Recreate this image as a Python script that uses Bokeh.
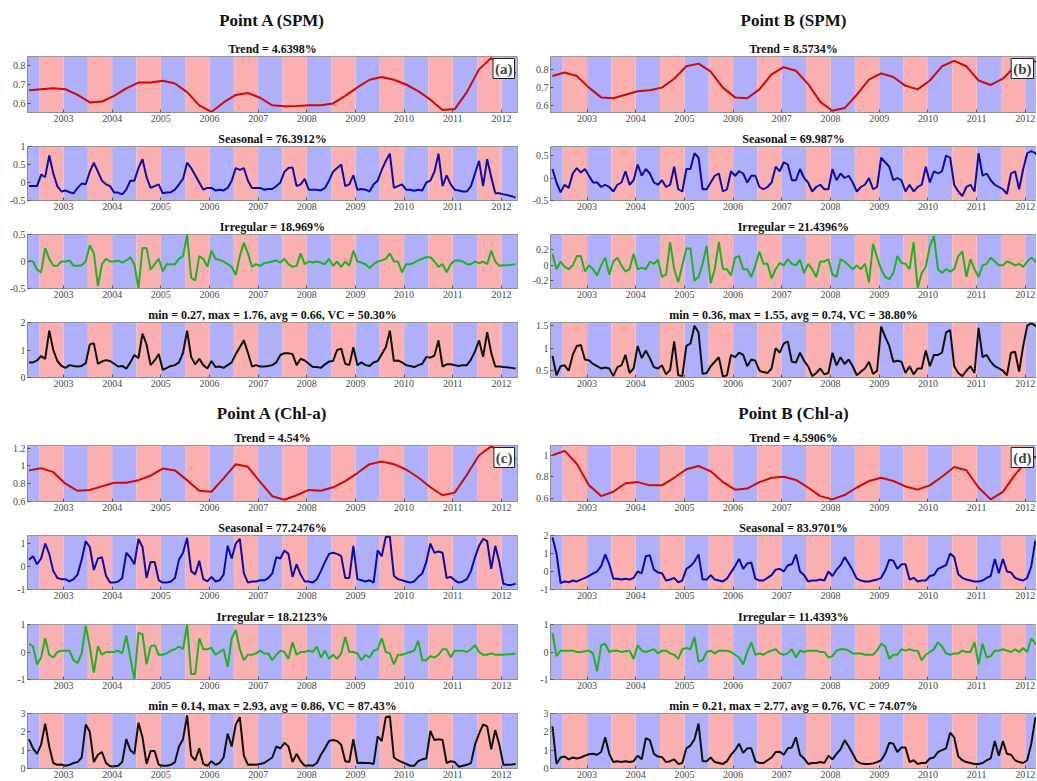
from bokeh.plotting import figure
from bokeh.layouts import column, row
from bokeh.models import Range1d, FixedTicker, Title, Label, CustomJSTickFormatter
from bokeh.embed import file_html
from bokeh.resources import INLINE

# ---------------- time axis ----------------
first_month = 2002.29          # first monthly sample (decimal year)
band_years = list(range(2002, 2013))
tick_years = list(range(2003, 2013))

# ---------------- titles ----------------
group_titles = ["Point A (SPM)", "Point B (SPM)", "Point A (Chl-a)", "Point B (Chl-a)"]
panel_tags = ["(a)", "(b)", "(c)", "(d)"]
titles_a = ["Trend = 4.6398%", "Seasonal = 76.3912%", "Irregular = 18.969%",
            "min = 0.27, max = 1.76, avg = 0.66, VC = 50.30%"]
titles_b = ["Trend = 8.5734%", "Seasonal = 69.987%", "Irregular = 21.4396%",
            "min = 0.36, max = 1.55, avg = 0.74, VC = 38.80%"]
titles_c = ["Trend = 4.54%", "Seasonal = 77.2476%", "Irregular = 18.2123%",
            "min = 0.14, max = 2.93, avg = 0.86, VC = 87.43%"]
titles_d = ["Trend = 4.5906%", "Seasonal = 83.9701%", "Irregular = 11.4393%",
            "min = 0.21, max = 2.77, avg = 0.76, VC = 74.07%"]

# ---------------- Point A (SPM) ----------------
trend_a = [0.67, 0.675, 0.68, 0.675, 0.645, 0.605, 0.61, 0.64, 0.68, 0.71, 0.71, 0.72, 0.705, 0.66,
           0.59, 0.555, 0.605, 0.645, 0.655, 0.63, 0.59, 0.585, 0.586, 0.59, 0.59, 0.6, 0.64, 0.685,
           0.725, 0.74, 0.725, 0.7, 0.665, 0.62, 0.565, 0.57, 0.66, 0.78, 0.84, 0.8, 0.76]
seasonal_a = [-0.1, -0.1, -0.1, 0.22, 0.15, 0.75, 0.25, -0.1, -0.25, -0.22,
              -0.27, -0.3, -0.15, -0.03, -0.05, 0.3, 0.55, 0.3, 0.05, -0.05,
              -0.1, -0.28, -0.28, -0.33, -0.2, 0.05, 0.05, 0.4, 0.65, 0.15,
              -0.15, -0.1, -0.05, -0.3, -0.28, -0.27, -0.2, -0.05, 0.1, 0.55,
              0.4, 0.2, 0.0, -0.2, -0.15, -0.15, -0.22, -0.2, -0.22, -0.15,
              0.05, 0.4, 0.35, 0.4, 0.05, -0.15, -0.15, -0.15, -0.2, -0.18,
              -0.18, -0.1, 0.0, 0.3, 0.4, 0.42, -0.1, -0.05, 0.1, -0.2,
              -0.2, -0.2, -0.22, -0.15, 0.05, 0.3, 0.4, 0.5, -0.1, -0.05,
              0.2, -0.2, -0.18, -0.2, -0.25, -0.05, 0.05, 0.35, 0.6, 0.8,
              -0.15, -0.1, -0.05, -0.2, -0.2, -0.23, -0.2, -0.22, 0.0, 0.05,
              0.3, 0.8, -0.1, 0.2, -0.05, -0.2, -0.22, -0.25, -0.25, -0.1,
              0.25, 0.6, -0.1, 0.65, 0.15, -0.3, -0.3, -0.33, -0.35, -0.38, -0.42]
irregular_a = [0.02, 0.0, -0.15, -0.2, 0.25, 0.05, -0.08, -0.08, 0.0, 0.0,
               0.02, -0.08, -0.08, -0.07, 0.0, 0.3, 0.15, -0.45, -0.05, 0.05,
               0.0, 0.0, 0.02, -0.02, 0.02, 0.08, -0.05, -0.5, 0.25, 0.25,
               -0.15, -0.05, 0.05, -0.18, -0.05, -0.05, -0.05, 0.05, 0.1, 0.5,
               -0.3, -0.35, 0.1, 0.05, -0.1, 0.2, 0.05, 0.03, 0.0, -0.05,
               -0.1, -0.25, 0.1, 0.35, 0.15, -0.1, -0.05, -0.08, -0.03, -0.02,
               0.0, 0.02, -0.02, 0.05, -0.05, -0.1, -0.08, 0.15, -0.05, 0.0,
               -0.02, 0.0, -0.02, -0.05, 0.05, -0.08, 0.0, -0.1, 0.0, -0.08,
               0.2, 0.0, -0.02, -0.05, -0.12, -0.05, 0.0, 0.02, 0.05, 0.15,
               0.0, 0.0, -0.2, -0.05, -0.05, -0.02, 0.02, 0.05, 0.08, 0.08,
               0.0, -0.1, -0.05, -0.2, -0.05, 0.02, 0.02, 0.0, -0.05, -0.05,
               0.0, -0.03, 0.0, -0.05, 0.2, 0.0, -0.08, -0.07, -0.07, -0.06, -0.05]
raw_a = [0.55, 0.55, 0.62, 0.78, 0.68, 1.7, 1.0, 0.6, 0.42, 0.35,
         0.45, 0.42, 0.4, 0.42, 0.52, 1.2, 1.25, 0.5, 0.58, 0.63,
         0.6, 0.5, 0.4, 0.42, 0.32, 0.55, 0.82, 0.7, 1.6, 1.2,
         0.45, 0.62, 0.85, 0.28, 0.35, 0.42, 0.45, 0.55, 0.9, 1.7,
         0.75, 0.48, 0.68, 0.45, 0.33, 0.6, 0.38, 0.4, 0.35, 0.45,
         0.55, 0.85, 1.1, 1.35, 0.9, 0.4, 0.45, 0.4, 0.4, 0.42,
         0.45, 0.55, 0.82, 0.88, 0.88, 0.85, 0.45, 0.68, 0.62, 0.5,
         0.38, 0.38, 0.35, 0.48, 0.58, 0.6, 1.0, 1.05, 0.5, 0.45,
         1.1, 0.45, 0.55, 0.45, 0.42, 0.55, 0.6, 0.85, 1.1, 1.7,
         0.6, 0.62, 0.55, 0.45, 0.42, 0.38, 0.45, 0.5, 0.75, 0.72,
         0.8, 1.35, 0.4, 0.48, 0.48, 0.45, 0.42, 0.45, 0.45, 0.65,
         0.95, 1.35, 0.75, 1.65, 0.9, 0.4, 0.4, 0.38, 0.37, 0.35, 0.33]

# ---------------- Point B (SPM) ----------------
trend_b = [0.765, 0.785, 0.765, 0.7, 0.645, 0.64, 0.66, 0.68, 0.685, 0.7, 0.75, 0.82, 0.835, 0.79,
           0.7, 0.645, 0.64, 0.69, 0.775, 0.815, 0.795, 0.72, 0.62, 0.57, 0.585, 0.66, 0.745, 0.78,
           0.76, 0.71, 0.69, 0.74, 0.82, 0.85, 0.82, 0.74, 0.715, 0.75, 0.82, 0.86, 0.84]
seasonal_b = [0.2, -0.1, -0.32, -0.15, -0.22, 0.1, 0.22, 0.12, 0.2, 0.05,
              -0.1, -0.1, -0.2, -0.15, -0.2, -0.3, -0.15, -0.1, 0.15, -0.15,
              -0.05, 0.3, 0.05, 0.2, 0.1, -0.1, -0.15, -0.05, -0.2, -0.15,
              0.25, -0.25, -0.3, 0.2, 0.2, 0.55, 0.45, -0.25, -0.25, -0.1,
              0.05, 0.1, -0.3, -0.25, 0.15, 0.05, 0.15, 0.1, -0.1, 0.05,
              0.05, -0.2, -0.25, -0.2, -0.1, 0.25, 0.15, 0.35, 0.3, -0.05,
              -0.05, 0.2, 0.0, -0.1, -0.3, -0.2, -0.15, -0.25, -0.25, 0.2,
              -0.05, 0.1, 0.0, 0.05, -0.1, -0.3, -0.2, -0.15, 0.0, -0.25,
              -0.2, 0.45, 0.35, 0.25, -0.05, 0.0, -0.05, -0.3, -0.15, -0.3,
              -0.2, -0.15, 0.25, -0.1, 0.15, 0.1, 0.15, 0.5, 0.45, -0.15,
              -0.3, -0.4, -0.2, -0.15, -0.3, 0.55, 0.05, 0.1, -0.05, -0.15,
              -0.2, -0.25, -0.35, 0.1, 0.15, -0.25, 0.2, 0.55, 0.6, 0.55, 0.45]
irregular_b = [0.15, -0.05, 0.05, -0.02, -0.05, 0.0, 0.12, 0.12, -0.08, 0.0,
               -0.05, -0.13, 0.0, 0.1, -0.12, 0.05, 0.1, 0.0, -0.08, -0.05,
               0.15, -0.05, -0.03, -0.05, 0.05, 0.02, 0.07, -0.15, -0.12, 0.3,
               -0.05, -0.22, 0.0, 0.22, 0.22, -0.2, -0.15, 0.02, 0.25, -0.23,
               -0.05, 0.3, -0.05, -0.05, -0.13, 0.1, 0.12, -0.05, -0.05, -0.15,
               0.0, 0.18, 0.02, 0.02, -0.17, -0.05, 0.03, 0.0, 0.08, 0.02,
               0.0, 0.07, -0.1, 0.02, -0.05, -0.15, 0.05, 0.05, 0.08, -0.12,
               -0.15, 0.08, 0.05, 0.0, -0.05, 0.0, -0.05, 0.02, -0.22, 0.28,
               0.1, -0.05, -0.15, -0.18, -0.1, 0.12, 0.03, 0.02, -0.05, 0.3,
               -0.3, -0.1, -0.02, 0.25, 0.38, -0.05, -0.1, -0.05, -0.08, -0.05,
               0.12, 0.18, -0.15, 0.08, -0.05, -0.15, 0.0, 0.02, 0.1, 0.05,
               0.0, 0.0, 0.05, 0.03, 0.0, 0.02, -0.02, 0.05, 0.1, 0.05, 0.02]
raw_b = [0.83, 0.4, 0.6, 0.62, 0.5, 0.85, 1.05, 1.07, 0.75, 0.73,
         0.65, 0.6, 0.55, 0.57, 0.55, 0.38, 0.58, 0.62, 0.85, 0.45,
         0.55, 1.05, 0.78, 0.95, 0.78, 0.58, 0.55, 0.62, 0.42, 0.52,
         1.15, 0.4, 0.38, 1.05, 1.1, 1.5, 1.35, 0.43, 0.45, 0.6,
         0.7, 0.8, 0.37, 0.4, 0.85, 0.8, 0.9, 0.85, 0.6, 0.75,
         0.72, 0.5, 0.47, 0.45, 0.55, 1.0, 0.9, 1.1, 1.15, 0.7,
         0.68, 0.9, 0.72, 0.6, 0.38, 0.45, 0.55, 0.42, 0.45, 0.9,
         0.62, 0.8, 0.65, 0.75, 0.6, 0.4, 0.48, 0.55, 0.7, 0.43,
         0.5, 1.48, 1.25, 1.05, 0.7, 0.72, 0.7, 0.45, 0.6, 0.42,
         0.55, 0.55, 0.95, 0.6, 0.85, 0.85, 0.9, 1.35, 1.4, 0.6,
         0.45, 0.38, 0.5, 0.6, 0.45, 1.45, 0.8, 0.85, 0.7, 0.6,
         0.55, 0.5, 0.4, 0.9, 0.92, 0.48, 1.05, 1.5, 1.55, 1.5, 1.4]

# ---------------- Point A (Chl-a) ----------------
trend_c = [0.95, 0.975, 0.93, 0.8, 0.72, 0.73, 0.77, 0.81, 0.81, 0.84, 0.89, 0.97, 0.95, 0.84,
           0.72, 0.71, 0.86, 1.02, 0.99, 0.82, 0.66, 0.62, 0.67, 0.73, 0.72, 0.76, 0.83, 0.92,
           1.02, 1.05, 1.02, 0.96, 0.87, 0.76, 0.67, 0.7, 0.9, 1.12, 1.22, 1.14, 1.08]
seasonal_c = [0.3, 0.45, 0.1, 0.35, 1.0, 0.55, -0.2, -0.5, -0.55, -0.55,
              -0.65, -0.55, -0.35, 0.3, 1.1, 0.85, -0.15, 0.35, 0.4, -0.4,
              -0.7, -0.7, -0.65, -0.5, 0.6, 0.4, 0.1, 1.2, 0.85, -0.5,
              0.2, 0.2, -0.6, -0.7, -0.7, -0.65, -0.5, 0.3, 0.6, 1.25,
              -0.2, -0.35, 0.25, -0.55, -0.65, -0.45, -0.65, -0.6, -0.35, 0.9,
              0.35, 1.0, 1.2, -0.3, -0.7, -0.65, -0.65, -0.6, -0.6, -0.5,
              -0.3, 0.4, 0.35, 0.7, 0.55, -0.45, 0.1, -0.35, -0.65, -0.65,
              -0.7, -0.55, -0.2, 0.2, 0.55, 0.6, 0.55, 0.45, -0.5, -0.5,
              0.9, -0.55, -0.6, -0.65, -0.6, -0.7, 0.7, 0.45, 1.3, 1.3,
              -0.4, -0.55, -0.6, -0.65, -0.7, -0.65, -0.45, -0.3, 0.2, 1.0,
              0.6, 0.65, 0.6, -0.5, -0.45, -0.6, -0.7, -0.65, -0.55, -0.2,
              0.4, 0.9, 1.2, 1.1, -0.1, 0.9, 0.2, -0.75, -0.8, -0.8, -0.75]
irregular_c = [0.3, 0.2, -0.45, -0.2, 0.5, -0.1, -0.2, 0.0, 0.05, 0.05,
               0.05, -0.3, -0.4, -0.05, 0.95, 0.2, -0.75, 0.2, -0.1, 0.0,
               0.0, 0.0, 0.05, -0.05, 0.6, -0.2, -1.0, 0.7, 0.65, -0.45,
               0.2, 0.25, -0.1, -0.1, -0.05, 0.05, 0.1, 0.2, 0.1, 1.0,
               -0.8, -0.8, 0.5, 0.1, 0.1, 0.15, -0.1, 0.0, 0.1, -0.55,
               0.5, 0.8, 0.1, -0.3, -0.1, -0.1, -0.05, 0.05, -0.05, -0.05,
               -0.3, -0.1, 0.05, 0.0, -0.25, 0.35, -0.1, 0.0, 0.0, 0.05,
               0.0, 0.2, -0.2, 0.05, -0.25, -0.1, -0.25, -0.05, 0.55, 0.0,
               0.0, -0.05, -0.3, -0.1, -0.2, 0.05, 0.1, 0.5, 0.0, -0.05,
               -0.45, -0.1, -0.1, -0.05, 0.0, 0.05, 0.4, -0.3, -0.3, -0.15,
               -0.2, -0.1, 0.1, 0.1, -0.2, 0.05, 0.05, 0.05, 0.0, 0.1,
               0.25, 0.0, -0.1, -0.1, -0.05, -0.1, -0.1, -0.1, -0.08, -0.08, -0.05]
raw_c = [1.6, 1.1, 0.8, 1.3, 2.45, 1.2, 0.3, 0.2, 0.22, 0.15,
         0.2, 0.3, 0.35, 0.6, 2.4, 2.0, 0.35, 0.75, 0.9, 0.3,
         0.12, 0.12, 0.15, 0.35, 1.6, 1.0, 0.8, 2.5, 1.7, 0.25,
         0.95, 0.95, 0.2, 0.15, 0.15, 0.2, 0.35, 1.2, 1.6, 2.9,
         0.7, 0.45, 1.1, 0.25, 0.15, 0.4, 0.2, 0.3, 0.6, 1.9,
         1.2, 2.4, 2.8, 0.7, 0.2, 0.22, 0.2, 0.25, 0.3, 0.45,
         0.6, 1.2, 1.1, 1.4, 1.2, 0.35, 0.8, 0.4, 0.15, 0.18,
         0.15, 0.3, 0.75, 1.1, 1.5, 1.55, 1.5, 1.3, 0.4, 0.35,
         1.6, 0.3, 0.32, 0.3, 0.3, 0.25, 1.75, 1.5, 2.8, 2.85,
         0.6, 0.45, 0.35, 0.25, 0.15, 0.15, 0.4, 0.5, 0.55, 2.05,
         1.55, 1.6, 1.55, 0.3, 0.4, 0.35, 0.1, 0.15, 0.2, 0.3,
         1.3, 1.9, 2.4, 2.3, 1.05, 2.1, 1.3, 0.2, 0.2, 0.22, 0.25]

# ---------------- Point B (Chl-a) ----------------
trend_d = [1.0, 1.04, 0.92, 0.72, 0.62, 0.66, 0.74, 0.75, 0.72, 0.72, 0.79, 0.87, 0.9, 0.85,
           0.75, 0.68, 0.69, 0.75, 0.79, 0.8, 0.77, 0.7, 0.62, 0.59, 0.63, 0.7, 0.76, 0.79,
           0.76, 0.71, 0.68, 0.72, 0.8, 0.89, 0.86, 0.7, 0.59, 0.66, 0.82, 0.95, 1.0]
seasonal_d = [1.9, 1.0, -0.65, -0.55, -0.6, -0.5, -0.55, -0.45, -0.35, -0.25,
              -0.1, 0.0, 0.3, 0.95, 0.4, -0.4, -0.4, -0.45, -0.4, -0.45,
              -0.35, 0.0, -0.1, 0.85, 0.9, 0.1, -0.05, -0.1, -0.5, -0.45,
              -0.35, -0.6, -0.5, 0.15, 0.3, 0.55, 0.95, -0.45, -0.45, -0.2,
              -0.45, -0.5, -0.55, -0.4, -0.05, 0.3, 0.7, 0.15, 0.45, 0.5,
              -0.4, -0.5, -0.5, -0.35, -0.2, 0.1, 0.15, 0.0, 0.35, 0.4,
              0.95, 0.0, -0.2, -0.55, -0.5, -0.5, -0.45, -0.5, 0.0, -0.25,
              0.1, 0.35, 0.8, 0.45, 0.05, -0.4, -0.5, -0.55, -0.55, -0.5,
              -0.45, -0.35, 0.05, 0.65, 0.6, 0.15, 0.4, 0.4, -0.45, -0.35,
              -0.55, -0.5, -0.5, -0.25, -0.2, 0.15, 0.25, 0.35, 1.0, 0.8,
              -0.15, -0.35, -0.45, -0.5, -0.55, -0.55, -0.5, -0.35, -0.25, 0.7,
              -0.1, 0.7, 0.0, -0.05, -0.35, -0.45, -0.5, -0.35, 0.3, 1.7, 1.2]
irregular_d = [0.7, -0.15, 0.05, 0.05, 0.05, 0.05, 0.0, 0.0, 0.03, 0.05,
               -0.05, -0.7, 0.25, 0.3, 0.0, 0.05, 0.05, 0.0, 0.03, 0.05,
               -0.25, 0.25, 0.05, 0.0, 0.05, 0.1, -0.05, 0.05, 0.05, -0.05,
               -0.1, -0.25, 0.1, 0.15, 0.1, 0.55, -0.35, -0.3, 0.0, 0.05,
               -0.05, 0.05, 0.05, 0.05, 0.0, -0.1, -0.2, -0.45, 0.0, 0.35,
               -0.1, -0.05, -0.1, 0.0, 0.05, 0.1, -0.05, -0.1, -0.05, 0.1,
               -0.2, 0.05, 0.0, 0.05, 0.05, 0.05, 0.0, 0.0, -0.2, -0.15,
               0.05, 0.1, 0.1, 0.05, -0.05, -0.05, -0.05, -0.1, -0.1, -0.1,
               0.05, 0.3, 0.2, -0.25, -0.1, -0.1, 0.1, 0.05, 0.1, 0.05,
               0.05, -0.3, -0.1, 0.0, 0.1, 0.35, 0.2, -0.05, -0.1, -0.05,
               -0.05, 0.05, 0.0, 0.0, 0.35, -0.45, 0.3, -0.2, -0.15, 0.05,
               0.05, 0.1, 0.05, 0.0, 0.1, 0.0, 0.15, 0.0, 0.5, 0.3, 0.2]
raw_d = [2.3, 0.25, 0.6, 0.65, 0.5, 0.6, 0.55, 0.6, 0.7, 0.78,
         0.8, 0.75, 0.9, 1.7, 0.8, 0.35, 0.4, 0.35, 0.4, 0.35,
         0.4, 0.7, 0.5, 1.65, 1.55, 0.8, 0.65, 0.62, 0.35, 0.4,
         0.5, 0.25, 0.3, 1.1, 1.25, 1.6, 2.45, 0.4, 0.4, 0.6,
         0.35, 0.3, 0.25, 0.4, 0.75, 1.0, 1.35, 0.85, 1.1, 1.1,
         0.4, 0.3, 0.3, 0.45, 0.6, 0.9, 0.92, 0.75, 1.1, 1.15,
         1.7, 0.75, 0.55, 0.25, 0.3, 0.3, 0.35, 0.3, 0.7, 0.5,
         0.8, 1.05, 1.55, 1.2, 0.8, 0.4, 0.28, 0.25, 0.25, 0.28,
         0.35, 0.45, 0.8, 1.4, 1.35, 0.9, 1.15, 1.15, 0.35, 0.45,
         0.25, 0.3, 0.3, 0.55, 0.6, 0.9, 1.0, 1.1, 1.95, 1.7,
         0.65, 0.45, 0.35, 0.3, 0.25, 0.25, 0.3, 0.45, 0.55, 1.5,
         0.7, 1.5, 0.8, 0.75, 0.45, 0.35, 0.3, 0.45, 1.35, 2.77, 2.5]

# ---------------- axis settings per panel ----------------
yranges = {
    "a": [(0.552, 0.848), (-0.5, 1.0), (-0.5, 0.5), (0.0, 2.0)],
    "b": [(0.56, 0.875), (-0.5, 0.7), (-0.3, 0.4), (0.35, 1.57)],
    "c": [(0.6, 1.23), (-1.0, 1.35), (-1.0, 1.0), (0.0, 3.0)],
    "d": [(0.57, 1.09), (-1.0, 2.0), (-1.0, 1.0), (0.0, 3.0)],
}
yticks = {
    "a": [[0.6, 0.7, 0.8], [-0.5, 0, 0.5, 1], [-0.5, 0, 0.5], [0, 1, 2]],
    "b": [[0.6, 0.7, 0.8], [-0.5, 0, 0.5], [-0.2, 0, 0.2], [0.5, 1, 1.5]],
    "c": [[0.6, 0.8, 1, 1.2], [-1, 0, 1], [-1, 0, 1], [0, 1, 2, 3]],
    "d": [[0.6, 0.8, 1], [-1, 0, 1, 2], [-1, 0, 1], [0, 1, 2, 3]],
}

FONT = "Liberation Serif"
BLUE_BAND = "#b0b0fa"
RED_BAND = "#fab0b0"
LINE_COLORS = ["#cc0a0a", "#0c0ca8", "#22b022", "#111111"]
AX_COLOR = "#8c8c8c"
fmt = CustomJSTickFormatter(code="return String(Math.round(tick*100)/100);")

COLS = {
    "left": dict(width=525, mbl=27, mbr=8, xr=(2002.26, 2012.33)),
    "right": dict(width=511, mbl=25, mbr=0, xr=(2002.25, 2012.23)),
}

# (top border, frame height, bottom border) of the four rows in each block
ROWS_TOP = [(56, 56, 16), (17, 55, 16), (17, 55, 16), (18, 55, 16)]
ROWS_BOTTOM = [(52, 56, 16), (17, 55, 17), (18, 55, 16), (18, 55, 12)]
SPACER_SIZE = ["2px", None]   # blank gap between block heading and first subtitle


def make_fig(values, step, color, yr, ticks, title, col, dims, group=None, tag=None,
             spacer=None):
    c = COLS[col]
    top, fh, bottom = dims
    xs = [first_month + i * step for i in range(len(values))]
    p = figure(width=c["width"], height=top + fh + bottom, output_backend="svg",
               toolbar_location=None, x_range=Range1d(*c["xr"]), y_range=Range1d(*yr),
               min_border_left=c["mbl"], min_border_right=c["mbr"],
               min_border_top=top, min_border_bottom=bottom)
    if group is not None:
        # figure title is the outermost one: use it for the block heading
        p.title.text = group
        p.title.align = "center"
        p.title.text_font = FONT
        p.title.text_font_size = "17px"
        p.title.text_font_style = "bold"
        p.title.text_color = "#111111"
        p.add_layout(Title(text=title, align="center", text_font=FONT, text_font_size="12px",
                           text_font_style="bold", text_color="#111111", standoff=2), "above")
        if spacer is not None:
            p.add_layout(Title(text=" ", align="center", text_font=FONT,
                               text_font_size=spacer, standoff=0), "above")
    else:
        p.title.text = title
        p.title.align = "center"
        p.title.text_font = FONT
        p.title.text_font_size = "12px"
        p.title.text_font_style = "bold"
        p.title.text_color = "#111111"
        p.title.standoff = 2
    p.quad(left=band_years, right=[y + 0.5 for y in band_years], bottom=yr[0], top=yr[1],
           fill_color=BLUE_BAND, line_color=None)
    p.quad(left=[y + 0.5 for y in band_years], right=[y + 1 for y in band_years],
           bottom=yr[0], top=yr[1], fill_color=RED_BAND, line_color=None)
    p.line(xs, values, line_color=color, line_width=2)
    p.xgrid.visible = False
    p.ygrid.visible = False
    p.outline_line_color = AX_COLOR
    p.xaxis.ticker = FixedTicker(ticks=tick_years)
    p.yaxis.ticker = FixedTicker(ticks=ticks)
    for ax in (p.xaxis[0], p.yaxis[0]):
        ax.formatter = fmt
        ax.major_label_text_font = FONT
        ax.major_label_text_font_size = "10px"
        ax.major_label_text_color = "#4a4a4a"
        ax.major_tick_in = 3
        ax.major_tick_out = 0
        ax.major_tick_line_color = "#555555"
        ax.minor_tick_line_color = None
        ax.axis_line_color = AX_COLOR
        ax.major_label_standoff = 2
    if tag is not None:
        p.add_layout(Label(x=c["xr"][1], y=yr[1], text=tag, text_align="right",
                           text_baseline="top", x_offset=-3, y_offset=-2,
                           text_font=FONT, text_font_size="15px", text_font_style="bold",
                           background_fill_color="white", border_line_color="#222222",
                           padding=2))
    return p


def make_group(key, trend, seas, irr, raw, titles, col, group, tag, rows, spacer):
    series = [(trend, 0.25), (seas, 1 / 12), (irr, 1 / 12), (raw, 1 / 12)]
    figs = []
    for k, (vals, step) in enumerate(series):
        figs.append(make_fig(vals, step, LINE_COLORS[k], yranges[key][k], yticks[key][k],
                             titles[k], col, rows[k],
                             group=group if k == 0 else None, tag=tag if k == 0 else None,
                             spacer=spacer))
    return column(*figs, spacing=0)


top_row = row(
    make_group("a", trend_a, seasonal_a, irregular_a, raw_a, titles_a, "left",
               group_titles[0], panel_tags[0], ROWS_TOP, SPACER_SIZE[0]),
    make_group("b", trend_b, seasonal_b, irregular_b, raw_b, titles_b, "right",
               group_titles[1], panel_tags[1], ROWS_TOP, SPACER_SIZE[0]),
    spacing=0)
bottom_row = row(
    make_group("c", trend_c, seasonal_c, irregular_c, raw_c, titles_c, "left",
               group_titles[2], panel_tags[2], ROWS_BOTTOM, SPACER_SIZE[1]),
    make_group("d", trend_d, seasonal_d, irregular_d, raw_d, titles_d, "right",
               group_titles[3], panel_tags[3], ROWS_BOTTOM, SPACER_SIZE[1]),
    spacing=0)
layout = column(top_row, bottom_row, spacing=0)

open("out.html", "w").write(file_html(layout, INLINE))
